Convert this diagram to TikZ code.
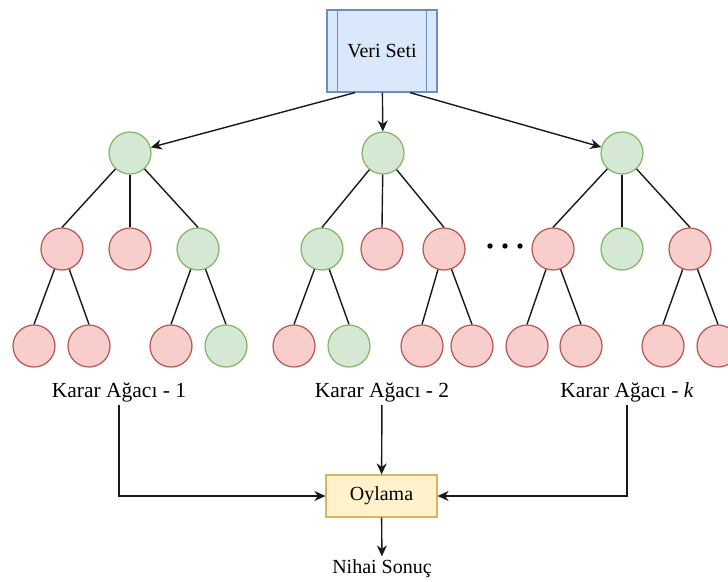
\documentclass[tikz,border=0pt]{standalone}
\usepackage{fontspec}
\setmainfont{Liberation Serif}
\usetikzlibrary{arrows.meta}

\definecolor{greenfill}{HTML}{D5E8D4}
\definecolor{greenline}{HTML}{82B366}
\definecolor{redfill}{HTML}{F8CECC}
\definecolor{redline}{HTML}{B85450}
\definecolor{bluefill}{HTML}{DAE8FC}
\definecolor{blueline}{HTML}{6C8EBF}
\definecolor{yellowfill}{HTML}{FFF2CC}
\definecolor{yellowline}{HTML}{D6B656}

\begin{document}
\begin{tikzpicture}[x=1pt, y=-1pt, font=\fontsize{20}{24}\selectfont]
    % Define the styles for the nodes
    \tikzstyle{gnode} = [circle, draw=greenline, fill=greenfill, line width=1.2pt, minimum size=42pt, inner sep=0pt]
    \tikzstyle{rnode} = [circle, draw=redline, fill=redfill, line width=1.2pt, minimum size=42pt, inner sep=0pt]
    \tikzstyle{data} = [rectangle, draw=blueline, fill=bluefill, line width=1.2pt, minimum width=110pt, minimum height=82pt]
    \tikzstyle{vote} = [rectangle, draw=yellowline, fill=yellowfill, line width=1.2pt, minimum width=111pt, minimum height=42pt]
    \tikzstyle{label} = [font=\fontsize{21.5}{24}\selectfont]
    \tikzstyle{line} = [draw, black!90, line width=1.4pt]
    \tikzstyle{arrow} = [line, -{Stealth[length=11pt, width=10pt, inset=3.5pt]}]

    \useasboundingbox (0,0) rectangle (728,581);

    % Data set
    \node [data] (veri) at (382,51) {Veri Seti};
    \draw [blueline, line width=1.2pt] ([xshift=11pt]veri.north west) -- ([xshift=11pt]veri.south west);
    \draw [blueline, line width=1.2pt] ([xshift=-11pt]veri.north east) -- ([xshift=-11pt]veri.south east);

    % Tree 1
    \node [gnode] (t1) at (130,153) {};
    \node [rnode] (t1-1) at (62,249) {};
    \node [rnode] (t1-2) at (130,249) {};
    \node [gnode] (t1-3) at (198,249) {};
    \node [rnode] (t1-11) at (34,346) {};
    \node [rnode] (t1-12) at (89,346) {};
    \node [rnode] (t1-31) at (171,346) {};
    \node [gnode] (t1-32) at (226,346) {};

    % Tree 2
    \node [gnode] (t2) at (383,153) {};
    \node [gnode] (t2-1) at (322,249) {};
    \node [rnode] (t2-2) at (382,249) {};
    \node [rnode] (t2-3) at (444,249) {};
    \node [rnode] (t2-11) at (294,346) {};
    \node [gnode] (t2-12) at (349,346) {};
    \node [rnode] (t2-31) at (422,346) {};
    \node [rnode] (t2-32) at (472,346) {};

    % Tree k
    \node [gnode] (t3) at (622,153) {};
    \node [rnode] (t3-1) at (553,249) {};
    \node [gnode] (t3-2) at (622,249) {};
    \node [rnode] (t3-3) at (690,249) {};
    \node [rnode] (t3-11) at (527,346) {};
    \node [rnode] (t3-12) at (581,346) {};
    \node [rnode] (t3-31) at (663,346) {};
    \node [rnode] (t3-32) at (718,346) {};

    % Branches
    \foreach \t in {1,2,3} {
        \foreach \c in {1,2,3}
            \path [line] (t\t) -- (t\t-\c.north);
        \foreach \c/\l in {1/1,1/2,3/1,3/2}
            \path [line] (t\t-\c) -- (t\t-\c\l.north);
    }

    % Dots between the trees
    \foreach \x in {490,505,520}
        \fill (\x,246) circle (2.7pt);

    % Labels, voting and result
    \node [label] (k1) at (119,392) {Karar Ağacı - 1};
    \node [label] (k2) at (382,392) {Karar Ağacı - 2};
    \node [label] (k3) at (627,392) {Karar Ağacı - \textit{k}};
    \node [vote] (oy) at (381.5,496) {Oylama};
    \node (sonuc) at (382,569) {Nihai Sonuç};

    % Connect the nodes with paths
    \path [arrow] ([xshift=-27pt]veri.south) -- (t1);
    \path [arrow] (veri) -- (t2);
    \path [arrow] ([xshift=28pt]veri.south) -- (t3);
    \path [arrow] (k1) |- (oy);
    \path [arrow] (k2) -- (oy);
    \path [arrow] (k3) |- (oy);
    \path [arrow] (oy) -- (sonuc);

\end{tikzpicture}
\end{document}
